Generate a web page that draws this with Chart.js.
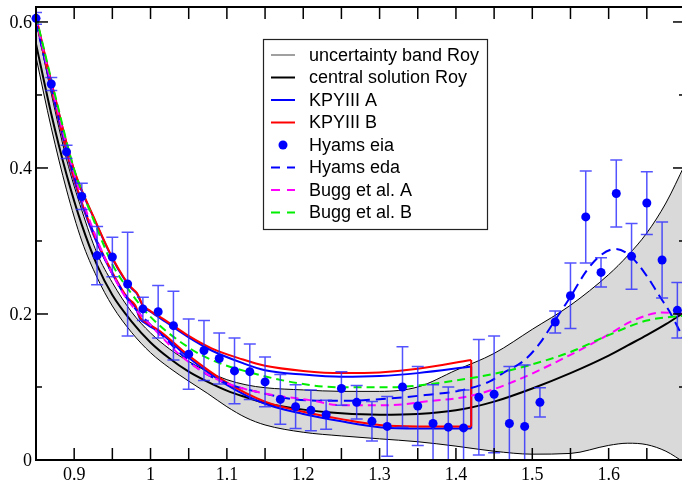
<!DOCTYPE html>
<html><head><meta charset="utf-8">
<script src="https://cdn.jsdelivr.net/npm/chart.js@4.4.1/dist/chart.umd.min.js"></script>
<style>html,body{margin:0;padding:0;overflow:hidden;background:#fff}canvas{display:block}</style>
</head><body>
<canvas id="c" width="690" height="482"></canvas>
<script>
// ---------- tick data ----------
const xTicks = [0.85,0.9,0.95,1.0,1.05,1.1,1.15,1.2,1.25,1.3,1.35,1.4,1.45,1.5,1.55,1.6,1.65,1.7];
const xLabelValues = [0.9,1.0,1.1,1.2,1.3,1.4,1.5,1.6];
const xLabelText = ['0.9','1','1.1','1.2','1.3','1.4','1.5','1.6'];
const yMajorTicks = [0,0.2,0.4,0.6];
const yMinorTicks = [0.1,0.3,0.5];
const yLabelText = ['0','0.2','0.4','0.6'];

// ---------- Roy band & central solution ----------
const bandX = [0.85,0.87,0.89,0.91,0.93,0.95,0.975,1.0,1.025,1.05,1.075,1.1,1.125,1.15,1.2,1.25,1.3,1.35,1.4,1.45,1.5,1.55,1.6,1.625,1.65,1.675,1.7];
const bandUpper = [0.603,0.502,0.412,0.342,0.283,0.243,0.203,0.174,0.152,0.135,0.121,0.110,0.103,0.099,0.096,0.094,0.094,0.100,0.123,0.146,0.179,0.212,0.254,0.280,0.311,0.352,0.405];
const bandLower = [0.552,0.455,0.370,0.300,0.250,0.211,0.175,0.147,0.126,0.108,0.091,0.073,0.058,0.048,0.038,0.033,0.029,0.025,0.019,0.012,0.008,0.009,0.020,0.023,0.021,0.012,-0.004];
const centralY  = [0.570,0.474,0.391,0.322,0.267,0.226,0.190,0.161,0.139,0.121,0.107,0.095,0.086,0.078,0.069,0.064,0.062,0.063,0.068,0.080,0.098,0.119,0.143,0.157,0.171,0.186,0.203];

// ---------- KPY III ----------
const kpyUpperX = [0.85,0.875,0.9,0.925,0.95,0.965,0.975,0.982,0.99,1.0,1.02,1.05,1.08,1.12,1.15,1.2,1.25,1.3,1.35,1.42];
const kpyBUpper = [0.607,0.497,0.397,0.334,0.277,0.250,0.236,0.229,0.212,0.204,0.191,0.170,0.153,0.138,0.129,0.122,0.119,0.120,0.125,0.137];
const kpyAUpper = [0.606,0.496,0.396,0.333,0.276,0.249,0.235,0.228,0.211,0.203,0.189,0.168,0.150,0.133,0.123,0.117,0.114,0.115,0.119,0.128];
const kpyLowerX = [0.85,0.875,0.9,0.925,0.95,0.97,0.98,0.986,0.995,1.013,1.05,1.1,1.15,1.2,1.25,1.3,1.35,1.42];
const kpyBLower = [0.604,0.487,0.385,0.311,0.257,0.222,0.212,0.196,0.188,0.176,0.143,0.106,0.080,0.066,0.056,0.048,0.046,0.046];
const kpyALower = [0.603,0.486,0.383,0.309,0.255,0.220,0.210,0.194,0.186,0.174,0.140,0.103,0.077,0.063,0.053,0.045,0.043,0.043];
const kpyEndX = 1.42;

// ---------- Hyams eda ----------
const edaX = [0.85,0.875,0.9,0.925,0.95,0.975,1.0,1.016,1.04,1.068,1.1,1.141,1.19,1.25,1.31,1.36,1.405,1.445,1.46,1.49,1.51,1.527,1.549,1.571,1.589,1.609,1.628,1.65,1.667,1.681,1.7];
const edaY = [0.600,0.488,0.388,0.312,0.255,0.214,0.185,0.170,0.145,0.121,0.105,0.093,0.083,0.081,0.084,0.089,0.095,0.108,0.118,0.137,0.160,0.187,0.222,0.259,0.280,0.289,0.280,0.252,0.224,0.201,0.162];

// ---------- Bugg et al. ----------
const buggAX = [0.85,0.875,0.9,0.925,0.95,0.969,1.0,1.017,1.034,1.07,1.1,1.148,1.209,1.25,1.31,1.36,1.42,1.47,1.55,1.6,1.63,1.67,1.7];
const buggAY = [0.605,0.493,0.392,0.315,0.255,0.2205,0.185,0.166,0.148,0.120,0.105,0.0913,0.082,0.075,0.075,0.080,0.088,0.105,0.144,0.172,0.190,0.202,0.200];
const buggBX = [0.85,0.875,0.9,0.925,0.95,0.975,1.0,1.05,1.08,1.13,1.2,1.25,1.31,1.35,1.4,1.45,1.5,1.55,1.6,1.65,1.7];
const buggBY = [0.608,0.500,0.398,0.330,0.268,0.228,0.196,0.154,0.137,0.120,0.104,0.0995,0.0995,0.102,0.109,0.118,0.131,0.148,0.171,0.191,0.198];

// ---------- Hyams eia data ----------
const eiaX = [0.85,0.87,0.89,0.91,0.93,0.95,0.97,0.99,1.01,1.03,1.05,1.07,1.09,1.11,1.13,1.15,1.17,1.19,1.21,1.23,1.25,1.27,1.29,1.31,1.33,1.35,1.37,1.39,1.41,1.43,1.45,1.47,1.49,1.51,1.53,1.55,1.57,1.59,1.61,1.63,1.65,1.67,1.69];
const eiaY = [0.605,0.515,0.422,0.361,0.280,0.278,0.241,0.207,0.203,0.184,0.145,0.150,0.139,0.122,0.121,0.107,0.083,0.073,0.068,0.062,0.098,0.079,0.053,0.046,0.100,0.074,0.050,0.045,0.044,0.086,0.090,0.050,0.046,0.079,0.189,0.225,0.333,0.257,0.365,0.279,0.352,0.274,0.205];
const eiaErr = [0.008,0.009,0.009,0.018,0.040,0.027,0.071,0.016,0.036,0.047,0.048,0.041,0.035,0.045,0.038,0.034,0.034,0.030,0.028,0.020,0.023,0.023,0.027,0.041,0.055,0.054,0.053,0.055,0.052,0.079,0.080,0.078,0.084,0.020,0.015,0.045,0.063,0.020,0.046,0.045,0.043,0.052,0.038];

// ---------- legend ----------
const legendLabels = ['uncertainty band Roy','central solution Roy','KPYIII A','KPYIII B','Hyams eia','Hyams eda','Bugg et al. A','Bugg et al. B'];

const pts = (xs, ys) => xs.map((x, i) => ({x, y: ys[i]}));
const line = (label, xs, ys, color, width, dash, order, extra) => Object.assign({
  label, data: pts(xs, ys), borderColor: color, borderWidth: width, borderDash: dash || [],
  pointRadius: 0, fill: false, cubicInterpolationMode: 'monotone', order
}, extra || {});

const datasets = [
  line('bandUpper', bandX, bandUpper, '#000', 1, null, 20, {fill: '+1', backgroundColor: '#d9d9d9'}),
  line('bandLower', bandX, bandLower, '#000', 1, null, 19),
  line('central', bandX, centralY, '#000', 2, null, 18),
  line('kpyAU', kpyUpperX, kpyAUpper, '#0000ff', 2, null, 15),
  line('kpyAL', kpyLowerX, kpyALower, '#0000ff', 2, null, 15),
  line('kpyAV', [kpyEndX, kpyEndX], [kpyALower[kpyALower.length-1], kpyAUpper[kpyAUpper.length-1]], '#0000ff', 2, null, 15, {cubicInterpolationMode: 'default', tension: 0}),
  line('kpyBU', kpyUpperX, kpyBUpper, '#ff0000', 2, null, 14),
  line('kpyBL', kpyLowerX, kpyBLower, '#ff0000', 2, null, 14),
  line('kpyBV', [kpyEndX, kpyEndX], [kpyBLower[kpyBLower.length-1], kpyBUpper[kpyBUpper.length-1]], '#ff0000', 2, null, 14, {cubicInterpolationMode: 'default', tension: 0}),
  line('eda', edaX, edaY, '#0000ff', 2, [10, 6], 12),
  line('buggA', buggAX, buggAY, '#ff00ff', 2, [8, 5], 11),
  line('buggB', buggBX, buggBY, '#00ee00', 2, [8, 5], 10),
  {label: 'eia', data: pts(eiaX, eiaY), showLine: false, pointRadius: 4.5, pointBackgroundColor: '#0000ff',
   pointBorderColor: '#0000ff', pointBorderWidth: 0, order: 0, clip: false}
];

const drawPlugin = {
  id: 'drawPlugin',
  beforeDatasetDraw(chart, args) {
    if (chart.data.datasets[args.index].label !== 'eia') return;
    const {ctx, chartArea: a, scales: {x, y}} = chart;
    ctx.save();
    ctx.beginPath(); ctx.rect(a.left, a.top, a.right - a.left, a.bottom - a.top); ctx.clip();
    ctx.strokeStyle = 'rgba(40,40,255,0.8)'; ctx.lineWidth = 1.5;
    eiaX.forEach((v, i) => {
      const px = x.getPixelForValue(v);
      const p1 = y.getPixelForValue(eiaY[i] + eiaErr[i]);
      const p2 = y.getPixelForValue(eiaY[i] - eiaErr[i]);
      ctx.beginPath();
      ctx.moveTo(px, p1); ctx.lineTo(px, p2);
      ctx.moveTo(px - 6, p1); ctx.lineTo(px + 6, p1);
      ctx.moveTo(px - 6, p2); ctx.lineTo(px + 6, p2);
      ctx.stroke();
    });
    ctx.restore();
  },
  afterDatasetsDraw(chart) {
    const {ctx, chartArea: a, scales: {x, y}} = chart;
    ctx.save();
    ctx.strokeStyle = '#000';
    ctx.lineWidth = 1.5;
    const seg = (x1, y1, x2, y2) => { ctx.beginPath(); ctx.moveTo(x1, y1); ctx.lineTo(x2, y2); ctx.stroke(); };
    xTicks.forEach(v => {
      const px = x.getPixelForValue(v);
      seg(px, a.bottom, px, a.bottom - 12);
      seg(px, a.top, px, a.top + 12);
    });
    yMajorTicks.forEach(v => {
      const py = y.getPixelForValue(v);
      seg(a.left, py, a.left + 12, py);
      seg(a.right, py, a.right - 12, py);
    });
    yMinorTicks.forEach(v => {
      const py = y.getPixelForValue(v);
      seg(a.left, py, a.left + 6, py);
      seg(a.right, py, a.right - 6, py);
    });
    ctx.lineWidth = 2;
    ctx.strokeRect(a.left, a.top, a.right - a.left, a.bottom - a.top);

    // tick labels
    ctx.fillStyle = '#000';
    ctx.font = '18px "Liberation Serif", "DejaVu Serif", serif';
    ctx.textAlign = 'center'; ctx.textBaseline = 'top';
    xLabelValues.forEach((v, i) => ctx.fillText(xLabelText[i], x.getPixelForValue(v), a.bottom + 6));
    ctx.textAlign = 'right'; ctx.textBaseline = 'middle';
    yMajorTicks.forEach((v, i) => ctx.fillText(yLabelText[i], a.left - 4, y.getPixelForValue(v) + 1));

    // legend
    const L = 263, T = 39, W = 224, H = 190;
    ctx.fillStyle = '#fff'; ctx.fillRect(L, T, W, H);
    ctx.strokeStyle = '#222'; ctx.lineWidth = 1.2; ctx.strokeRect(L + 0.5, T + 0.5, W, H);
    const styles = [
      {c: '#808080', w: 1.5}, {c: '#000', w: 2}, {c: '#0000ff', w: 2}, {c: '#ff0000', w: 2},
      {dot: true, c: '#0000ff'}, {c: '#0000ff', w: 2, d: [9, 7]}, {c: '#ff00ff', w: 2, d: [9, 7]}, {c: '#00ee00', w: 2, d: [9, 7]}
    ];
    ctx.font = '18px "Liberation Sans", Arial, sans-serif';
    ctx.textAlign = 'left'; ctx.textBaseline = 'middle';
    legendLabels.forEach((lab, i) => {
      const yy = 55 + i * 22.5;
      const s = styles[i];
      if (s.dot) {
        ctx.fillStyle = s.c; ctx.beginPath(); ctx.arc(283, yy, 4.5, 0, Math.PI * 2); ctx.fill();
      } else {
        ctx.strokeStyle = s.c; ctx.lineWidth = s.w; ctx.setLineDash(s.d || []);
        seg(271, yy, 295, yy); ctx.setLineDash([]);
      }
      ctx.fillStyle = '#000';
      ctx.fillText(lab, 309, yy + 1);
    });
    ctx.restore();
  }
};

new Chart(document.getElementById('c'), {
  type: 'line',
  data: {datasets},
  options: {
    responsive: false, animation: false, devicePixelRatio: 1,
    layout: {padding: {left: 36, top: 7, right: 5, bottom: 22}},
    scales: {
      x: {type: 'linear', min: 0.85, max: 1.7, display: false},
      y: {type: 'linear', min: 0, max: 0.6205, display: false}
    },
    plugins: {legend: {display: false}, tooltip: {enabled: false}, filler: {drawTime: 'beforeDatasetsDraw'}},
    events: []
  },
  plugins: [drawPlugin]
});
</script>
</body></html>
